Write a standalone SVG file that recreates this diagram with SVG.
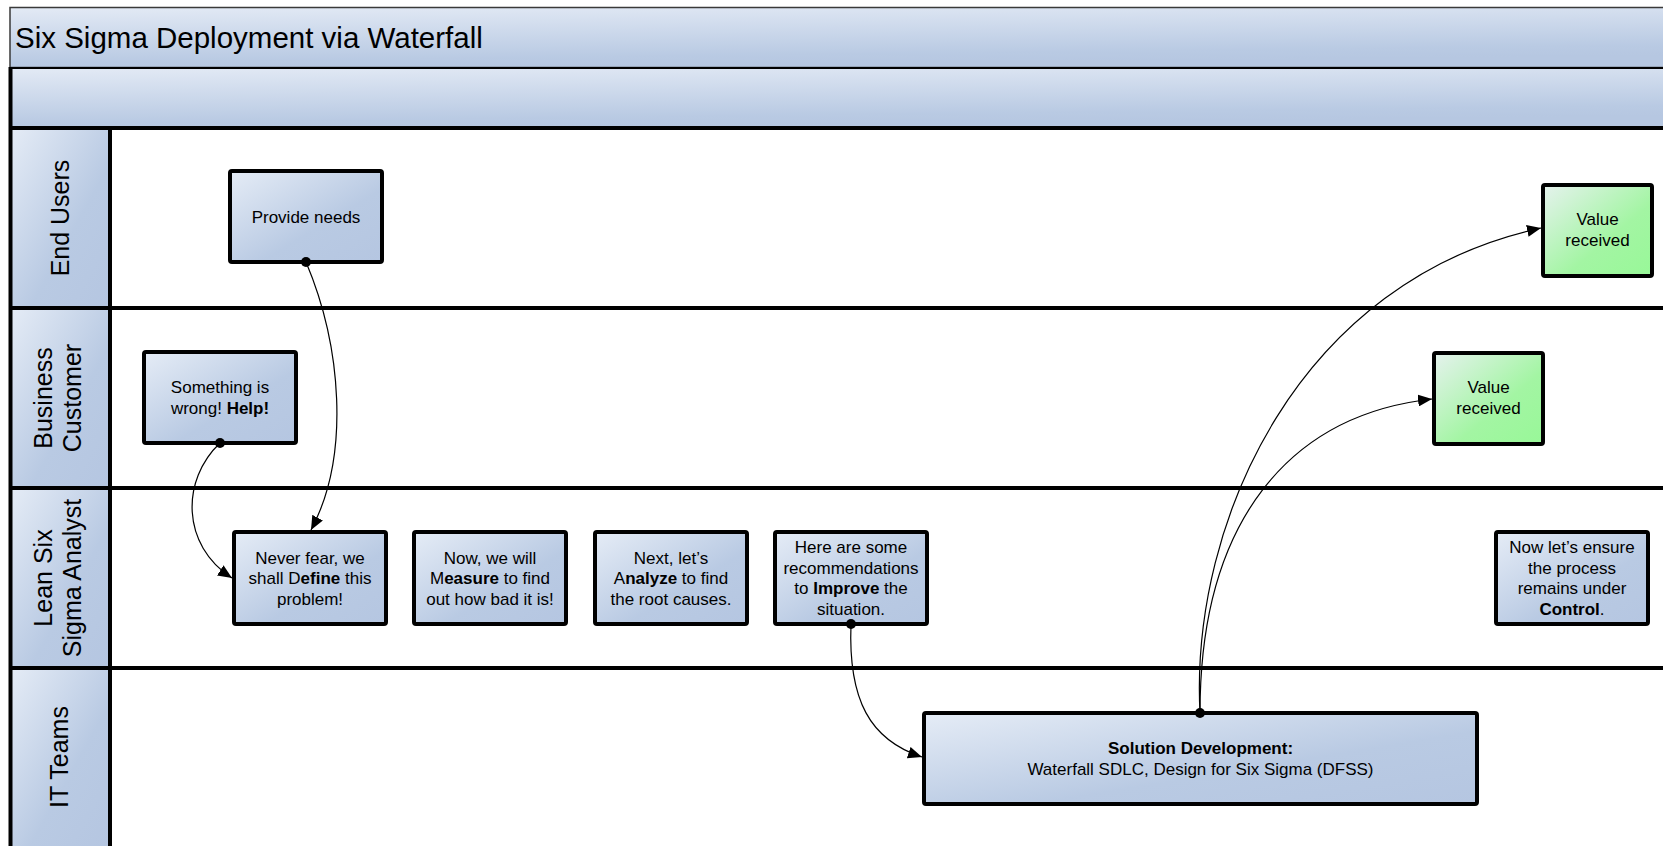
<svg xmlns="http://www.w3.org/2000/svg" width="1663" height="846" viewBox="0 0 1663 846">
<defs>
<linearGradient id="gBlue" x1="0" y1="0" x2="1" y2="1">
<stop offset="0" stop-color="#e5ecf6"/>
<stop offset="0.6" stop-color="#b9cae3"/>
<stop offset="1" stop-color="#b5c6e1"/>
</linearGradient>
<linearGradient id="gGreen" x1="0" y1="0" x2="1" y2="1">
<stop offset="0" stop-color="#e6f2ee"/>
<stop offset="0.6" stop-color="#a3f5a3"/>
<stop offset="1" stop-color="#98f898"/>
</linearGradient>
<linearGradient id="gBand" x1="0" y1="0" x2="0.3" y2="1">
<stop offset="0" stop-color="#e3eaf5"/>
<stop offset="0.85" stop-color="#b9cae3"/>
<stop offset="1" stop-color="#b6c7e1"/>
</linearGradient>
<marker id="arr" markerUnits="userSpaceOnUse" markerWidth="14" markerHeight="12" refX="14" refY="6" orient="auto">
<path d="M0,0 L14,6 L0,12 z" fill="#000"/>
</marker>
</defs>
<style>
.box{fill:url(#gBlue);stroke:#000;stroke-width:4}
.gbox{fill:url(#gGreen);stroke:#000;stroke-width:4}
.t{font-family:"Liberation Sans",Arial,sans-serif;font-size:17px;fill:#000;text-anchor:middle}
.b{font-weight:bold}
.lane{font-family:"Liberation Sans",Arial,sans-serif;font-size:25px;fill:#000;text-anchor:middle}
.hdr{fill:url(#gBlue);stroke:none}
.div{stroke:#000;stroke-width:4;fill:none}
.con{fill:none;stroke:#000;stroke-width:1.2;marker-end:url(#arr)}
</style>
<rect width="1663" height="846" fill="#fff"/>
<g id="pool">
<rect x="10" y="7.5" width="1660" height="60" fill="url(#gBand)" stroke="#3a3a3a" stroke-width="1.5"/>
<text x="15" y="47.5" font-family="Liberation Sans, Arial, sans-serif" font-size="29.5" fill="#000">Six Sigma Deployment via Waterfall</text>
<rect x="10" y="68" width="1660" height="60" fill="url(#gBand)"/>
<line x1="10" y1="68" x2="1663" y2="68" stroke="#000" stroke-width="2"/>
<rect x="110" y="128" width="1553" height="718" fill="#fff"/>
</g>
<g id="lane-end-users">
<rect class="hdr" x="10" y="128" width="100" height="180"/>
<text class="lane" transform="translate(60,218) rotate(-90)" y="9">End Users</text>
</g>
<g id="lane-business-customer">
<rect class="hdr" x="10" y="308" width="100" height="180"/>
<text class="lane" transform="translate(58,398) rotate(-90)"><tspan x="0" y="-6">Business</tspan><tspan x="0" y="23">Customer</tspan></text>
</g>
<g id="lane-lss-analyst">
<rect class="hdr" x="10" y="488" width="100" height="180"/>
<text class="lane" transform="translate(58,578) rotate(-90)"><tspan x="0" y="-6">Lean Six</tspan><tspan x="0" y="23">Sigma Analyst</tspan></text>
</g>
<g id="lane-it-teams">
<rect class="hdr" x="10" y="668" width="100" height="178"/>
<text class="lane" transform="translate(59,757) rotate(-90)" y="9">IT Teams</text>
</g>
<g id="lane-lines">
<line class="div" x1="10.5" y1="67" x2="10.5" y2="846"/>
<line class="div" x1="110" y1="128" x2="110" y2="846"/>
<line class="div" x1="9" y1="128" x2="1663" y2="128"/>
<line class="div" x1="9" y1="308" x2="1663" y2="308"/>
<line class="div" x1="9" y1="488" x2="1663" y2="488"/>
<line class="div" x1="9" y1="668" x2="1663" y2="668"/>
</g>
<g id="n-provide-needs">
<rect class="box" x="230" y="171" width="152" height="91" rx="2"/>
<text class="t" x="306" y="222.5">Provide needs</text>
</g>
<g id="n-something-wrong">
<rect class="box" x="144" y="352" width="152" height="91" rx="2"/>
<text class="t"><tspan x="220" y="393">Something is</tspan><tspan x="220" y="413.5">wrong! <tspan class="b">Help!</tspan></tspan></text>
</g>
<g id="n-define">
<rect class="box" x="234" y="532" width="152" height="92" rx="2"/>
<text class="t"><tspan x="310" y="563.5">Never fear, we</tspan><tspan x="310" y="584">shall D<tspan class="b">efine</tspan> this</tspan><tspan x="310" y="604.5">problem!</tspan></text>
</g>
<g id="n-measure">
<rect class="box" x="414" y="532" width="152" height="92" rx="2"/>
<text class="t"><tspan x="490" y="563.5">Now, we will</tspan><tspan x="490" y="584">M<tspan class="b">easure</tspan> to find</tspan><tspan x="490" y="604.5">out how bad it is!</tspan></text>
</g>
<g id="n-analyze">
<rect class="box" x="595" y="532" width="152" height="92" rx="2"/>
<text class="t"><tspan x="671" y="563.5">Next, let’s</tspan><tspan x="671" y="584">A<tspan class="b">nalyze</tspan> to find</tspan><tspan x="671" y="604.5">the root causes.</tspan></text>
</g>
<g id="n-improve">
<rect class="box" x="775" y="532" width="152" height="92" rx="2"/>
<text class="t"><tspan x="851" y="553">Here are some</tspan><tspan x="851" y="573.5">recommendations</tspan><tspan x="851" y="594">to <tspan class="b">Improve</tspan> the</tspan><tspan x="851" y="614.5">situation.</tspan></text>
</g>
<g id="n-control">
<rect class="box" x="1496" y="532" width="152" height="92" rx="2"/>
<text class="t"><tspan x="1572" y="553">Now let’s ensure</tspan><tspan x="1572" y="573.5">the process</tspan><tspan x="1572" y="594">remains under</tspan><tspan x="1572" y="614.5"><tspan class="b">Control</tspan>.</tspan></text>
</g>
<g id="n-value-end-users">
<rect class="gbox" x="1543" y="185" width="109" height="91" rx="2"/>
<text class="t"><tspan x="1597.5" y="225">Value</tspan><tspan x="1597.5" y="245.5">received</tspan></text>
</g>
<g id="n-value-business">
<rect class="gbox" x="1434" y="353" width="109" height="91" rx="2"/>
<text class="t"><tspan x="1488.5" y="393">Value</tspan><tspan x="1488.5" y="413.5">received</tspan></text>
</g>
<g id="n-solution">
<rect class="box" x="924" y="713" width="553" height="91" rx="2"/>
<text class="t"><tspan x="1200.5" y="754" class="b">Solution Development:</tspan><tspan x="1200.5" y="774.5">Waterfall SDLC, Design for Six Sigma (DFSS)</tspan></text>
</g>
<g id="connectors">
<path class="con" d="M306,262 C341,345 351,455 311,530"/>
<path class="con" d="M220,443 C181,480 181,545 232,578"/>
<path class="con" d="M851,624 C848,700 870,740 922,757"/>
<path class="con" d="M1200,713 C1190,520 1300,280 1541,228"/>
<path class="con" d="M1200,713 C1200,520 1290,415 1432,399"/>
<circle cx="306" cy="262" r="5"/>
<circle cx="220" cy="443" r="5"/>
<circle cx="851" cy="624" r="5"/>
<circle cx="1200" cy="713" r="5"/>
</g>
</svg>
